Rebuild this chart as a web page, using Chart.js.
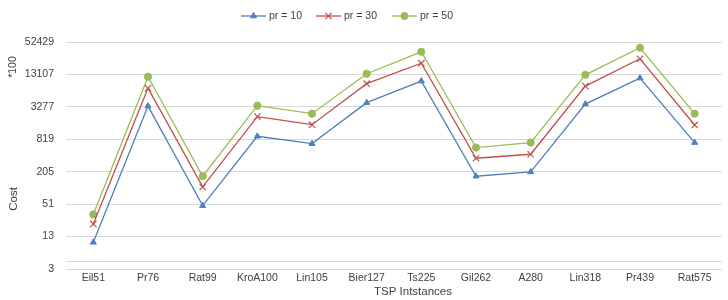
<!DOCTYPE html>
<html>
<head>
<meta charset="utf-8">
<script src="https://cdn.jsdelivr.net/npm/chart.js@4/dist/chart.umd.min.js"></script>
<style>
html,body{margin:0;padding:0;background:#fff;}
#wrap{width:728px;height:300px;position:relative;}
</style>
</head>
<body>
<div id="wrap"><canvas id="c" width="728" height="300"></canvas></div>
<script>
const categories = ['Eil51','Pr76','Rat99','KroA100','Lin105','Bier127','Ts225','Gil262','A280','Lin318','Pr439','Rat575'];
const pr10 = [10, 3390, 48, 930, 680, 3920, 9850, 169, 203, 3690, 11200, 711];
const pr30 = [22, 7300, 107, 2160, 1530, 8820, 21200, 364, 432, 7960, 25600, 1510];
const pr50 = [33, 11900, 169, 3450, 2450, 13500, 34500, 575, 711, 12900, 41000, 2450];
const seriesNames = ['pr = 10', 'pr = 30', 'pr = 50'];
const yTickValues = [3.2, 4.5, 12.8, 51.2, 204.8, 819.2, 3276.8, 13107.2, 52428.8];
const yTickLabels = ['3', '', '13', '51', '205', '819', '3277', '13107', '52429'];
const xTitle = 'TSP Intstances';
const yTitle = 'Cost';
const yUnit = '*100';

const FONT = '"Liberation Sans", Arial, sans-serif';
const colors = ['#4F81BD', '#C0504D', '#9BBB59'];
const styles = ['triangle', 'crossRot', 'circle'];
const radii = [3.5, 4.5, 3.6];

const datasets = [pr10, pr30, pr50].map((d, i) => ({
  label: seriesNames[i],
  data: d,
  borderColor: colors[i],
  backgroundColor: colors[i],
  borderWidth: 1.3,
  pointStyle: styles[i],
  pointRadius: radii[i],
  pointHoverRadius: radii[i],
  pointBorderWidth: i === 1 ? 1.2 : 1,
  pointBorderColor: colors[i],
  pointBackgroundColor: colors[i],
  tension: 0,
  fill: false
}));

const decor = {
  id: 'decor',
  afterDraw(chart) {
    const ctx = chart.ctx;
    ctx.save();
    // legend
    const legX = [241, 316, 392];
    const ly = 16;
    ctx.font = '10.5px ' + FONT;
    ctx.textBaseline = 'middle';
    ctx.textAlign = 'left';
    chart.data.datasets.forEach((ds, i) => {
      const x0 = legX[i];
      ctx.strokeStyle = ds.borderColor;
      ctx.fillStyle = ds.backgroundColor;
      ctx.lineWidth = 1.3;
      ctx.beginPath();
      ctx.moveTo(x0, ly);
      ctx.lineTo(x0 + 25, ly);
      ctx.stroke();
      ctx.lineWidth = ds.pointBorderWidth;
      Chart.helpers.drawPoint(ctx, {
        pointStyle: ds.pointStyle,
        radius: ds.pointRadius,
        rotation: 0,
        borderWidth: ds.pointBorderWidth
      }, x0 + 12.5, ly);
      ctx.fillStyle = '#404040';
      ctx.fillText(ds.label, x0 + 28, ly);
    });
    // axis titles
    ctx.fillStyle = '#404040';
    ctx.font = '11.5px ' + FONT;
    ctx.textAlign = 'center';
    ctx.fillText(xTitle, 413, 292);
    ctx.save();
    ctx.translate(14, 199);
    ctx.rotate(-Math.PI / 2);
    ctx.fillText(yTitle, 0, 0);
    ctx.restore();
    ctx.save();
    ctx.translate(13, 67);
    ctx.rotate(-Math.PI / 2);
    ctx.font = '10.5px ' + FONT;
    ctx.fillText(yUnit, 0, 0);
    ctx.restore();
    ctx.restore();
  }
};

new Chart(document.getElementById('c'), {
  type: 'line',
  data: { labels: categories, datasets: datasets },
  options: {
    responsive: false,
    animation: false,
    events: [],
    layout: { padding: { top: 42, right: 6, left: 0, bottom: 0 } },
    plugins: { legend: { display: false }, tooltip: { enabled: false } },
    scales: {
      x: {
        type: 'category',
        offset: true,
        grid: { display: false, drawTicks: false },
        border: { display: false },
        ticks: { color: '#404040', font: { family: FONT, size: 10.5 }, padding: 3, maxRotation: 0, autoSkip: false },
        afterFit(s) { s.height = 31; }
      },
      y: {
        type: 'logarithmic',
        min: 3.2,
        max: 52428.8,
        grid: { color: '#D9D9D9', lineWidth: 1, drawTicks: false },
        border: { display: false },
        afterBuildTicks(s) { s.ticks = yTickValues.map(v => ({ value: v })); },
        ticks: {
          color: '#404040',
          font: { family: FONT, size: 10.5 },
          padding: 12,
          autoSkip: false,
          callback(v, i) { return yTickLabels[i]; }
        },
        afterFit(s) { s.width = 66; }
      }
    }
  },
  plugins: [decor]
});
</script>
</body>
</html>
